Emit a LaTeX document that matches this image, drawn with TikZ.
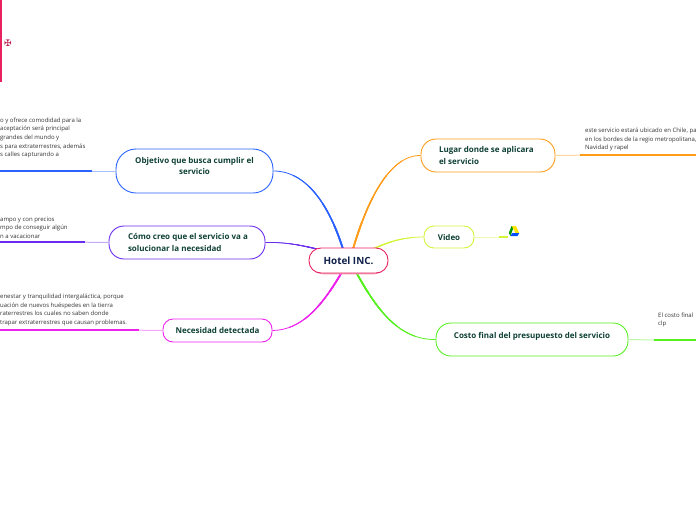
\documentclass[tikz,border=0pt]{standalone}
\usepackage{fontspec}
\setmainfont{Open Sans}
\newfontfamily\symfont{DejaVu Sans}
\usetikzlibrary{calc}
\definecolor{cblue}{HTML}{2962FF}
\definecolor{cpurple}{HTML}{6A2BF0}
\definecolor{cmag}{HTML}{EE22EE}
\definecolor{corange}{HTML}{FF9C1A}
\definecolor{cyel}{HTML}{D2F53A}
\definecolor{cgreen}{HTML}{55F01E}
\definecolor{chub}{HTML}{E8225F}
\definecolor{tgreen}{HTML}{0E4034}
\definecolor{tnavy}{HTML}{10204A}
\definecolor{tleaf}{HTML}{333333}
\tikzset{
  x=1pt,y=-1pt,
  topic/.style={draw=#1,fill=white,line width=0.9pt,rounded corners=12pt,inner sep=0pt,font=\fontsize{8pt}{11.2pt}\selectfont\bfseries,text=tgreen},
  leaf/.style={anchor=west,inner sep=0pt,align=left,text=tleaf,font=\fontsize{6pt}{8.6pt}\selectfont},
  stub/.style={draw=#1!40,line width=1pt},
  bar/.style={draw=#1,line width=1.6pt},
}
% colour, four points of the curve, scale of the widths
\newcommand\taper[6]{%
  \draw[#1,line width=0.8pt] (#2) .. controls (#3) and (#4) .. (#5);
  \foreach \t/\w in {0.8/1.0,0.6/1.25,0.4/1.5,0.2/1.8}{%
    \coordinate (p1) at ($(#2)!\t!(#3)$);
    \coordinate (p2) at ($(#3)!\t!(#4)$);
    \coordinate (p3) at ($(#4)!\t!(#5)$);
    \coordinate (q1) at ($(p1)!\t!(p2)$);
    \coordinate (q2) at ($(p2)!\t!(p3)$);
    \coordinate (r) at ($(q1)!\t!(q2)$);
    \draw[#1,line width=#6*\w pt] (#2) .. controls (p1) and (q1) .. (r);
  }%
}
\begin{document}
\begin{tikzpicture}
\useasboundingbox (0,0) rectangle (696,520);
\clip (0,0) rectangle (696,520);
% connector ends on the hub
\coordinate (hObj) at (343,249);
\coordinate (hCom) at (317,249);
\coordinate (hNec) at (342,272);
\coordinate (hLug) at (353,249);
\coordinate (hVid) at (373,249);
\coordinate (hCos) at (356,272);
% nodes
\node[topic=cblue,rounded corners=20pt,minimum width=157pt,minimum height=44pt] (obj) at (194.5,171) {\raisebox{16pt}{\parbox{140pt}{\centering Objetivo que busca cumplir el\\servicio}}};
\node[topic=cpurple,rounded corners=15pt,minimum width=156pt,minimum height=33pt] (como) at (187,242.5) {\raisebox{-2pt}{\makebox[118pt][l]{\parbox{125pt}{Cómo creo que el servicio va a\\solucionar la necesidad}}}};
\node[topic=cmag,rounded corners=10pt,minimum width=109pt,minimum height=23pt] (nec) at (217.5,330.5) {\raisebox{-2pt}{Necesidad detectada}};
\node[topic=corange,rounded corners=15pt,minimum width=134pt,minimum height=33pt] (lug) at (488,155.5) {\raisebox{-2pt}{\makebox[98pt][l]{\parbox{98pt}{Lugar donde se aplicara\\el servicio}}}};
\node[topic=cyel,rounded corners=10pt,minimum width=50pt,minimum height=22pt] (vid) at (449,237) {\raisebox{-2pt}{Video}};
\node[topic=cgreen,rounded corners=15pt,minimum width=192pt,minimum height=33pt] (cost) at (532,339.5) {\raisebox{9pt}{Costo final del presupuesto del servicio}};
% connectors
\taper{cblue}{hObj}{330,208}{308,171}{obj.east}{1}
\taper{cpurple}{hCom}{300,245}{285,242}{como.east}{0.6}
\taper{cmag}{hNec}{322,306}{302,330}{nec.east}{1}
\taper{corange}{hLug}{366,205}{388,155}{lug.west}{1}
\taper{cyel}{hVid}{390,241}{405,237}{vid.west}{0.7}
\taper{cgreen}{hCos}{376,308}{398,340}{cost.west}{1}
% hub above its connectors
\draw[chub!45,line width=1.4pt,rounded corners=12pt] (311,265) -- (311,273.6) -- (386,273.6) -- (386,265);
\node[topic=chub,minimum width=79pt,minimum height=25pt,font=\fontsize{9.9pt}{12pt}\selectfont\bfseries,text=tnavy] (hub) at (348.5,260.5) {\raisebox{-1.5pt}{Hotel INC.}};
% leaves
\coordinate (oA) at (92,171);  \coordinate (oB) at (-2,171);
\coordinate (cA) at (85,242.2); \coordinate (cB) at (-2,242.2);
\coordinate (nA) at (139,330.2); \coordinate (nB) at (-2,330.2);
\coordinate (lA) at (580,155.2); \coordinate (lB) at (698,155.2);
\coordinate (vA) at (499,237); \coordinate (vB) at (508,237);
\coordinate (kA) at (654,340); \coordinate (kB) at (698,340);
\draw[stub=cblue] (obj.west) -- (oA);
\draw[bar=cblue] (oA) -- (oB);
\draw[stub=cpurple] (como.west) -- (cA);
\draw[bar=cpurple] (cA) -- (cB);
\draw[stub=cmag] (nec.west) -- (nA);
\draw[bar=cmag] (nA) -- (nB);
\draw[stub=corange] (lug.east) -- (lA);
\draw[bar=corange] (lA) -- (lB);
\draw[stub=cyel] (vid.east) -- (vA);
\draw[bar=cyel] (vA) -- (vB);
\draw[stub=cgreen] (cost.east) -- (kA);
\draw[bar=cgreen] (kA) -- (kB);
% leaf texts
\node[leaf] (t1) at (0,138) {o y ofrece comodidad para la\\aceptación será principal\\grandes del mundo y\\s para extraterrestres, además\\s calles capturando a};
\node[leaf] (t2) at (0,227.5) {ampo y con precios\\mpo de conseguir algún\\n a vacacionar};
\node[leaf] (t3) at (0,310) {enestar y tranquilidad intergaláctica, porque\\uación de nuevos huéspedes en la tierra\\raterrestres los cuales no saben donde\\trapar extraterrestres que causan problemas.};
\node[leaf] (t4) at (585,139.5) {este servicio estará ubicado en Chile, pa\\en los bordes de la regio metropolitana,\\Navidad y rapel};
\node[leaf] (t5) at (658,320) {El costo final\\clp};
% drive icon
\fill[green!60!black] (514,226) -- (511.5,226) -- (508.8,233) -- (510.5,236) -- cycle;
\fill[yellow!85!orange] (511.8,226) -- (516,226) -- (519.2,233) -- (515.5,233) -- cycle;
\fill[blue!70!cyan] (510.5,236) -- (517.5,236) -- (519.2,233) -- (512.2,233) -- cycle;
% top-left panel
\draw[chub,line width=2pt] (1,-2) -- (1,82);
\node[inner sep=0pt,text=chub!80!black,font=\symfont\fontsize{9pt}{10pt}\selectfont] (ic) at (8,43) {✠};
\end{tikzpicture}
\end{document}
